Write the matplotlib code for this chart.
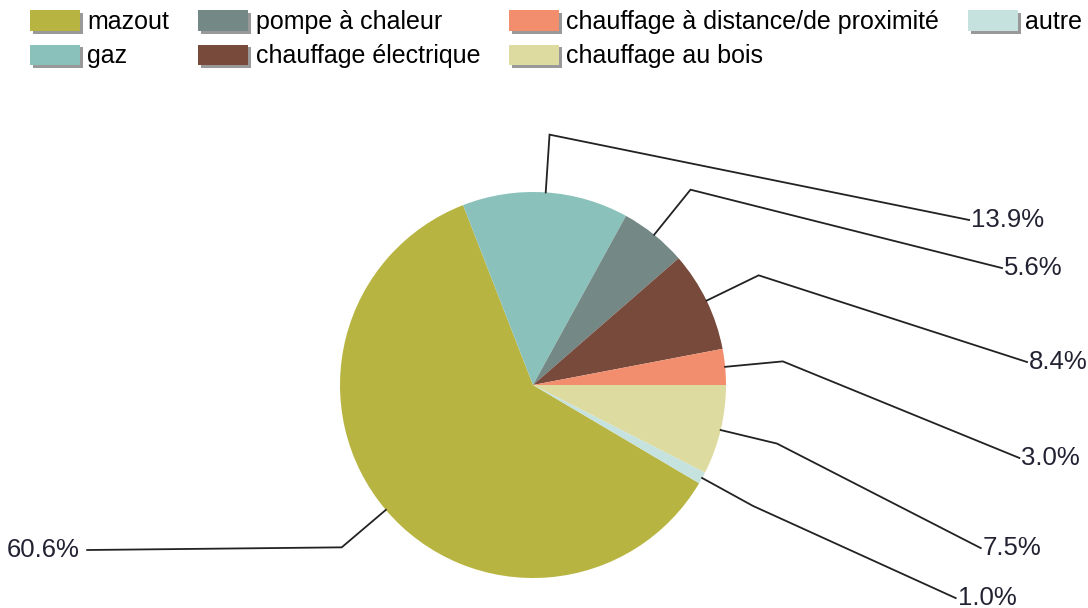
import matplotlib.pyplot as plt
import matplotlib.patheffects as pe
import numpy as np

# shares of heating systems (%)
categories = ['mazout', 'gaz', 'pompe à chaleur', 'chauffage électrique',
              'chauffage à distance/de proximité', 'chauffage au bois', 'autre']
shares = [60.6, 13.9, 5.6, 8.4, 3.0, 7.5, 1.0]
colors = ['#B8B441', '#8AC2BB', '#748886', '#774A3B', '#F28E6E', '#DEDBA0', '#C5E2DE']

# where each percentage label sits (pie radius = 1)
label_pos = [(-2.31, -0.855), (2.26, 0.855), (2.43, 0.606), (2.56, 0.119),
             (2.52, -0.378), (2.32, -0.845), (2.19, -1.104)]

plt.rcParams['font.family'] = ['Liberation Sans', 'DejaVu Sans']

fig = plt.figure(figsize=(10.88, 6.08), dpi=100)
ax = fig.add_axes([0, 0, 1, 1])

start = 360 - 30.6
wedges, _ = ax.pie(shares, colors=colors, startangle=start, counterclock=False,
                   wedgeprops=dict(linewidth=0))

# leader lines with an elbow, then the label
for w, val, (lx, ly) in zip(wedges, shares, label_pos):
    mid = np.deg2rad((w.theta1 + w.theta2) / 2)
    x0, y0 = np.cos(mid), np.sin(mid)
    x1, y1 = 1.3 * x0, 1.3 * y0
    ax.plot([x0, x1, lx], [y0, y1, ly], color='#222222', lw=1.3,
            solid_joinstyle='miter')
    ha = 'left' if lx > 0 else 'right'
    off = 0.01 if lx > 0 else -0.04
    ax.text(lx + off, ly, f'{val:.1f}%', ha=ha, va='center', fontsize=18.5,
            color='#222233')

ax.set_xlim(-533 / 193, (1088 - 533) / 193)
ax.set_ylim(-(608 - 385) / 193, 385 / 193)
ax.set_aspect('auto')
ax.axis('off')

leg = fig.legend(wedges, categories, loc='upper left', ncol=4,
                 bbox_to_anchor=(30 / 1088, 1 - 10 / 608), frameon=False,
                 fontsize=18, handlelength=2.0, handleheight=0.9,
                 handletextpad=0.3, columnspacing=1.15, labelspacing=0.42,
                 borderpad=0, borderaxespad=0)
for h in leg.legend_handles:
    h.set_path_effects([pe.SimplePatchShadow(offset=(2, -2), shadow_rgbFace='#555555', alpha=0.6),
                        pe.Normal()])

fig.savefig('out.png', dpi=100)
